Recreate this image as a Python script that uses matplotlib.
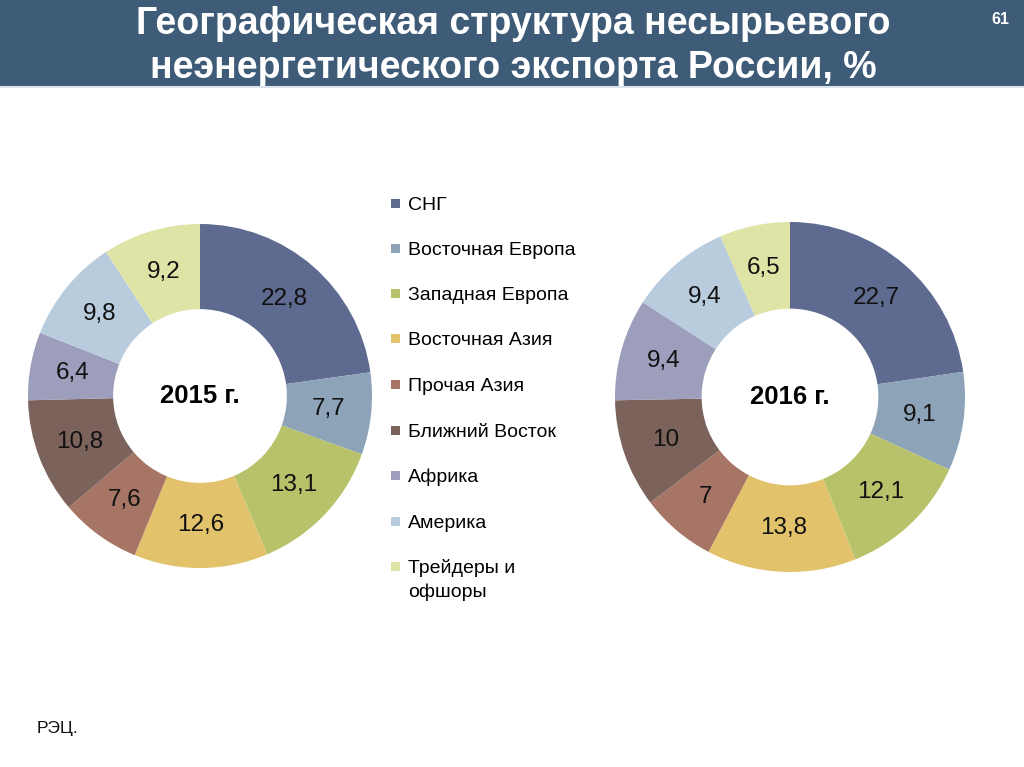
import matplotlib.pyplot as plt
from matplotlib.patches import Rectangle

plt.rcParams['font.family'] = ['Liberation Sans', 'DejaVu Sans']

# data
regions = ['СНГ', 'Восточная Европа', 'Западная Европа', 'Восточная Азия',
           'Прочая Азия', 'Ближний Восток', 'Африка', 'Америка',
           'Трейдеры и\nофшоры']
share_2015 = [22.8, 7.7, 13.1, 12.6, 7.6, 10.8, 6.4, 9.8, 9.2]
share_2016 = [22.7, 9.1, 12.1, 13.8, 7, 10, 9.4, 9.4, 6.5]
colors = ['#5F6A91', '#8CA3B8', '#B7C26B', '#E2C36C', '#A67565',
          '#7B625B', '#9C9EBC', '#B8CCDE', '#DEE4A6']

W, H = 1024, 767
fig = plt.figure(figsize=(W / 100, H / 100), dpi=100)
ax = fig.add_axes([0, 0, 1, 1])

# header band
ax.add_patch(Rectangle((0, H - 85), W, 85, color='#3E5B78', zorder=0))
ax.plot([0, W], [H - 87, H - 87], color='#D9E1EA', lw=1.5)
ax.text(513, H - 24, 'Географическая структура несырьевого', ha='center', va='center',
        color='white', fontsize=27, fontweight='bold')
ax.text(513, H - 68, 'неэнергетического экспорта России, %', ha='center', va='center',
        color='white', fontsize=27, fontweight='bold')
ax.text(1000, H - 19, '61', ha='center', va='center', color='white',
        fontsize=11.5, fontweight='bold')


def fmt(v):
    return ('%g' % v).replace('.', ',')


def donut(values, cx, cy, r, year):
    wedges, texts = ax.pie(values, colors=colors, startangle=90, counterclock=False,
                           center=(cx, H - cy), radius=r, frame=True,
                           labels=[fmt(v) for v in values], labeldistance=0.75,
                           wedgeprops=dict(width=r * 0.495, linewidth=0),
                           textprops=dict(fontsize=17.5, color='#111111'))
    for t in texts:
        t.set_ha('center')
        t.set_va('center')
    ax.text(cx, H - cy, year, ha='center', va='center', fontsize=18.5,
            fontweight='bold', color='black')


donut(share_2015, 200, 396, 172, '2015 г.')
donut(share_2016, 790, 397, 175, '2016 г.')
ax.set_xlim(0, W)
ax.set_ylim(0, H)
ax.set_aspect('auto')
ax.axis('off')

# legend
ys = [203, 248, 293, 338, 384, 430, 475, 521, 566]
for name, c, y in zip(regions, colors, ys):
    ax.add_patch(Rectangle((391, H - y - 4.5), 9, 9, color=c, lw=0))
    ax.text(408, H - y - 2.5 if '\n' not in name else H - y - 14, name,
            ha='left', va='center', fontsize=14, color='black',
            linespacing=1.45)

ax.text(37, H - 729, 'РЭЦ.', ha='left', va='center', fontsize=12.5, color='#111111')

fig.savefig('out.png', dpi=100)
